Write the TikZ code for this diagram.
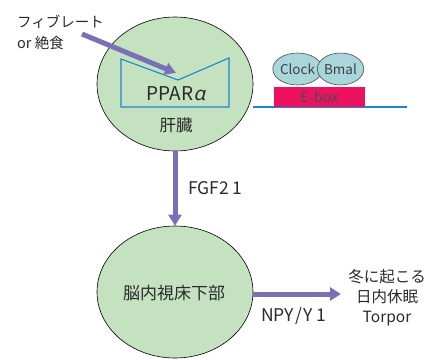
\documentclass[tikz,border=0pt]{standalone}
\usepackage{fontspec}
\setmainfont{Noto Sans CJK JP}
\newfontfamily\greekit[FakeSlant=0.25]{Noto Sans}
\usetikzlibrary{arrows.meta,shapes.geometric}
\definecolor{organ}{HTML}{C4E2C0}
\definecolor{purp}{HTML}{7A70B8}
\definecolor{bline}{HTML}{1A86D0}
\definecolor{factor}{HTML}{A9D6DB}
\definecolor{ebox}{HTML}{EC1260}
\definecolor{txt}{HTML}{2A2A2A}
\tikzset{
  organbox/.style={ellipse, draw=black, line width=0.6pt, fill=organ, inner sep=0pt, minimum width=156pt},
  bigarrow/.style={draw=purp, line width=5pt, -{Triangle[length=11pt,width=13pt]}},
  factorbox/.style={ellipse, draw=black!70, line width=0.6pt, fill=factor, inner sep=0pt, minimum width=43pt, minimum height=32pt, text=black!75, font=\fontsize{13.5}{15}\selectfont},
  lbl/.style={text=txt, inner sep=0pt, font=\fontsize{17.5}{20}\selectfont},
}
\begin{document}
\begin{tikzpicture}[x=1pt,y=-1pt]
\useasboundingbox (0,0) rectangle (436,359);
% ellipses
\node[organbox, minimum height=134pt] (liver) at (175,84) {};
\node[organbox, minimum height=132pt] (brain) at (175,292) {};
% receptor outline
\draw[bline, line width=1.1pt] (121,59) -- (178,80) -- (229,58) -- (229,107) -- (121,107) -- cycle;
\coordinate (lineA) at (252.5,107);
\coordinate (lineB) at (407,107);
\draw[bline, line width=1.2pt] (lineA) -- (lineB);
% E-box
\node[fill=ebox, minimum width=91pt, minimum height=20pt, inner sep=0pt, anchor=south west] (ebox) at (274,107) {};
\node[text=black!70, inner sep=0pt, font=\fontsize{14.5}{16}\selectfont] (eboxt) at (319.5,97) {E-box};
\node[factorbox] (clock) at (297.5,69) {Clock};
\node[factorbox] (bmal) at (340.5,69) {Bmal};
% liver texts
\node[lbl, font=\fontsize{19}{21}\selectfont] (ppar) at (176,94) {PPAR{\greekit α}};
\node[lbl, font=\fontsize{16.5}{18}\selectfont] (kanzo) at (176,125) {肝臓};
% input
\node[lbl, align=left, anchor=west, font=\fontsize{14.5}{21}\selectfont] (input) at (17,32) {フィブレート\\or 絶食};
\coordinate (inS) at (82,34);
\coordinate (inE) at (176,73);
\draw[bigarrow, -{Triangle[length=11pt,width=12pt]}] (inS) -- (inE);
% FGF21 arrow
\draw[bigarrow] (liver.south) -- (brain.north);
\node[lbl, anchor=west] (fgf) at (188,188) {FGF2\kern3pt1};
% brain
\node[lbl, font=\fontsize{17}{19}\selectfont] (hypo) at (174,293) {脳内視床下部};
\coordinate (nE) at (341,294);
\draw[bigarrow] (brain.east |- nE) -- (nE);
\node[lbl, anchor=west] (npy) at (261,316) {NPY\kern1.5pt/\kern1.5ptY\kern3pt1};
\node[lbl, align=center, font=\fontsize{15.5}{20}\selectfont] (torpor) at (387,298) {冬に起こる\\日内休眠\\Torpor};
\end{tikzpicture}
\end{document}
